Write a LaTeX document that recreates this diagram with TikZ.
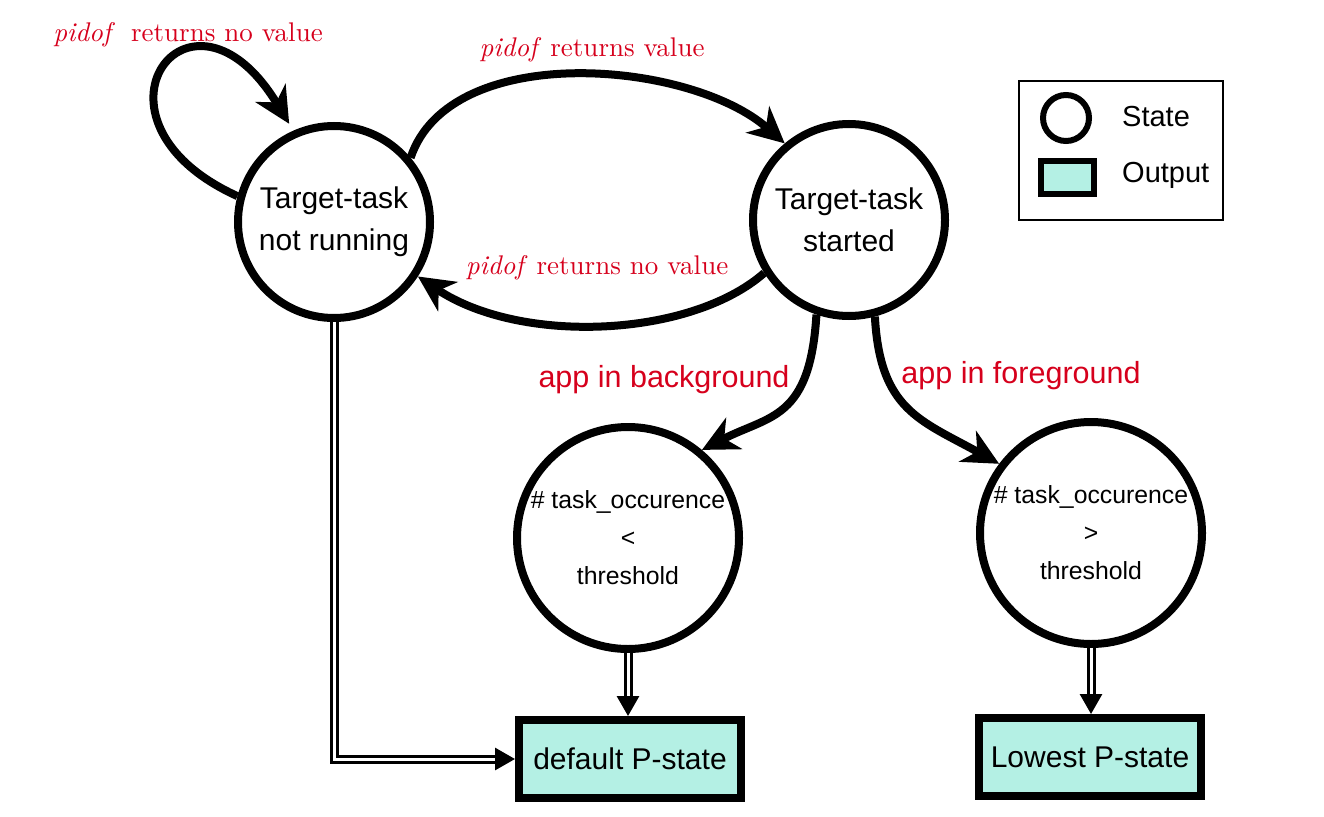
\documentclass[tikz,border=0pt]{standalone}
\usepackage{fontspec}
\newfontfamily\arialf{Liberation Sans}
\newfontfamily\lmten[Extension=.otf,UprightFont=lmroman10-regular,ItalicFont=lmroman10-italic]{lmroman10}
\usetikzlibrary{arrows.meta}
\definecolor{lblred}{RGB}{214,0,28}
\definecolor{outfill}{RGB}{180,240,228}
\begin{document}
\begin{tikzpicture}[x=1pt,y=-1pt,
 state/.style={circle,draw,line width=8pt,inner sep=0pt,minimum size=192pt,align=center,font=\arialf\fontsize{30}{42}\selectfont},
 bigstate/.style={state,minimum size=222pt,font=\arialf\fontsize{24.8}{38}\selectfont},
 outbox/.style={rectangle,draw,line width=8pt,fill=outfill,minimum width=222pt,minimum height=78pt,inner sep=0pt,font=\arialf\fontsize{30}{34}\selectfont},
 trans/.style={line width=8pt,-{Stealth[length=36pt,width=35pt,inset=11pt]}},
 outarrow/.style={double,double distance=3pt,line width=3pt,-{Triangle[length=20pt,width=22pt]}},
 lbl/.style={text=lblred,inner sep=0pt,font=\lmten\fontsize{27}{34}\selectfont},
 sanslbl/.style={text=lblred,inner sep=0pt,font=\arialf\fontsize{30.5}{34}\selectfont},
 legtext/.style={anchor=west,inner sep=0pt,font=\arialf\fontsize{29}{34}\selectfont}]
\useasboundingbox (0,0) rectangle (1324,816);

% states
\node[state] (A) at (334,222) {Target-task\\not running};
\node[state] (B) at (849,220) {Target-task\\started};
\node[bigstate] (C) at (628,538) {\# task\_occurence\\<\\threshold};
\node[bigstate] (D) at (1091,533) {\# task\_occurence\\>\\threshold};

% outputs
\node[outbox] (P1) at (630,759) {default P-state};
\node[outbox] (P2) at (1090,757) {Lowest P-state};

% transitions
\draw[trans,shorten >=8pt] (A.165) .. controls (70,120) and (190,-40) .. (A.114);
\draw[trans] (A.40) .. controls (450,40) and (690,60) .. (B.130);
\draw[trans] (B.212) .. controls (690,338) and (520,345) .. (A.-33);
\draw[trans] (B.-109) .. controls (810,420) and (770,415) .. (C.50);
\draw[trans] (B.-75) .. controls (880,410) and (920,420) .. (D.143);

% outputs arrows
\draw[outarrow] (A.south) |- (P1.west);
\draw[outarrow] (C.south) -- (C.south |- P1.north);
\draw[outarrow] (D.south) -- (D.south |- P2.north);

% labels
\node[lbl] (l1) at (188,35) {\textit{pidof}\hspace{16pt}returns no value};
\node[lbl] (l2) at (592,50) {\textit{pidof} returns value};
\node[lbl] (l3) at (597,268) {\textit{pidof} returns no value};
\node[sanslbl] (l4) at (664,380) {app in background};
\node[sanslbl] (l5) at (1021,376) {app in foreground};

% legend
\node[draw,line width=2pt,minimum width=204pt,minimum height=139pt,inner sep=0pt] (leg) at (1121,150.5) {};
\node[circle,draw,line width=6pt,minimum size=46pt,inner sep=0pt] (legS) at (1066,118) {};
\node[rectangle,draw,line width=6pt,fill=outfill,minimum width=53pt,minimum height=33pt,inner sep=0pt] (legO) at (1067.5,177.5) {};
\node[legtext] (legSt) at (1122,117) {State};
\node[legtext] (legOt) at (1122,175) {Output};
\end{tikzpicture}
\end{document}
